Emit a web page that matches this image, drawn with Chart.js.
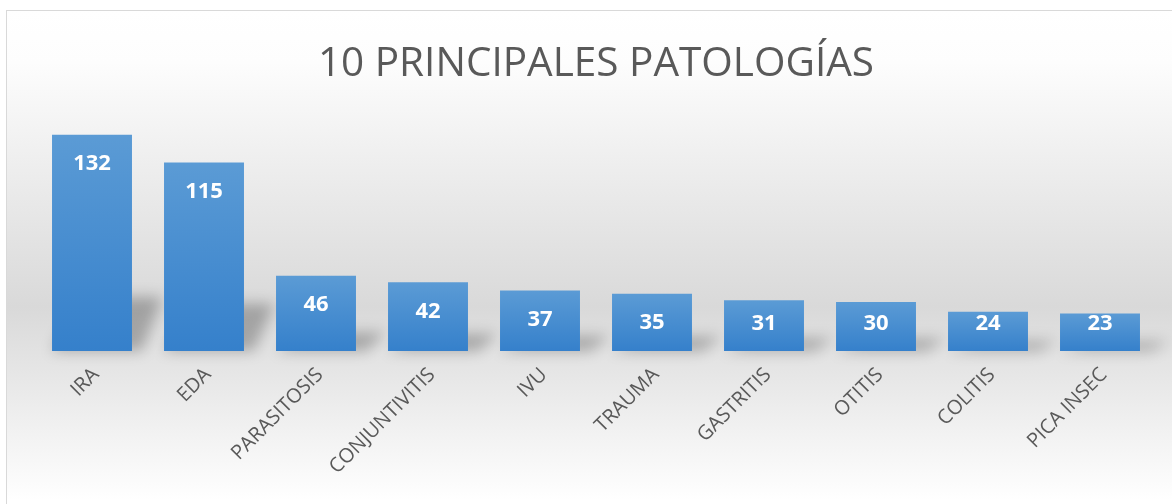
<!DOCTYPE html>
<html>
<head>
<meta charset="utf-8">
<script src="https://cdn.jsdelivr.net/npm/chart.js@4.4.0/dist/chart.umd.min.js"></script>
<style>
  html, body { margin: 0; padding: 0; background: #ffffff; overflow: hidden; }
  #marco {
    position: absolute; left: 6px; top: 10px;
    width: 1180px; height: 510px;
    border: 1px solid #d9d9d9;
    background: linear-gradient(to bottom, #ffffff 0%, #fdfdfd 10%, #d9d9d9 58%, #ffffff 96%);
  }
  canvas { display: block; }
</style>
</head>
<body>
<div id="marco"><canvas id="grafico" width="1166" height="494"></canvas></div>
<script>
const titulo = '10 PRINCIPALES PATOLOGÍAS';
const categorias = ['IRA', 'EDA', 'PARASITOSIS', 'CONJUNTIVITIS', 'IVU', 'TRAUMA', 'GASTRITIS', 'OTITIS', 'COLITIS', 'PICA INSEC'];
const casos = [132, 115, 46, 42, 37, 35, 31, 30, 24, 23];

// sombra en perspectiva detras de cada barra (como en Excel)
const sombraBarras = {
    id: 'sombraBarras',
    beforeDatasetsDraw(chart) {
        const ctx = chart.ctx;
        const meta = chart.getDatasetMeta(0);
        ctx.save();
        ctx.filter = 'blur(7px)';
        ctx.fillStyle = 'rgba(0,0,0,0.26)';
        meta.data.forEach(bar => {
            const p = bar.getProps(['x', 'y', 'base', 'width'], true);
            const izq = p.x - p.width / 2;
            const der = p.x + p.width / 2;
            const h = p.base - p.y;
            const sh = h * 0.25;
            ctx.beginPath();
            ctx.moveTo(izq, p.base);
            ctx.lineTo(der + 10, p.base);
            ctx.lineTo(der + 30, p.base - sh);
            ctx.lineTo(izq + 30, p.base - sh);
            ctx.closePath();
            ctx.fill();
        });
        ctx.restore();
    }
};

// valores en blanco dentro de la barra (sin bajar del fondo en las barras cortas)
const etiquetasValor = {
    id: 'etiquetasValor',
    afterDatasetsDraw(chart) {
        const ctx = chart.ctx;
        const meta = chart.getDatasetMeta(0);
        ctx.save();
        ctx.fillStyle = '#ffffff';
        ctx.font = 'bold 22px "Open Sans"';
        ctx.textAlign = 'center';
        ctx.textBaseline = 'middle';
        meta.data.forEach((bar, i) => {
            const p = bar.getProps(['x', 'y', 'base'], true);
            ctx.fillText(casos[i], p.x, Math.min(p.y + 29, p.base - 27));
        });
        ctx.restore();
    }
};

function degradadoBarra(context) {
    const chart = context.chart;
    if (!chart.chartArea) return '#5b9bd5';
    const y = chart.scales.y;
    const arriba = y.getPixelForValue(context.raw);
    const abajo = y.getPixelForValue(0);
    const g = chart.ctx.createLinearGradient(0, arriba, 0, abajo);
    g.addColorStop(0, '#5b9bd5');
    g.addColorStop(1, '#3580cb');
    return g;
}

new Chart(document.getElementById('grafico'), {
    type: 'bar',
    data: {
        labels: categorias,
        datasets: [{
            data: casos,
            backgroundColor: degradadoBarra,
            borderWidth: 0,
            categoryPercentage: 1,
            barPercentage: 0.714
        }]
    },
    options: {
        responsive: false,
        animation: false,
        layout: { padding: { left: 29, right: 17, top: 0, bottom: 22 } },
        plugins: {
            legend: { display: false },
            tooltip: { enabled: false },
            title: {
                display: true,
                text: titulo,
                color: '#595959',
                font: { family: 'Open Sans', size: 40.5, weight: 'normal' },
                padding: { top: 29, bottom: 15 }
            }
        },
        scales: {
            x: {
                grid: { display: false },
                border: { display: false },
                ticks: {
                    color: '#595959',
                    font: { family: 'Open Sans', size: 20 },
                    minRotation: 45,
                    maxRotation: 45,
                    padding: 4,
                    labelOffset: 4
                }
            },
            y: {
                display: false,
                min: 0,
                max: 151
            }
        }
    },
    plugins: [sombraBarras, etiquetasValor]
});
</script>
</body>
</html>
